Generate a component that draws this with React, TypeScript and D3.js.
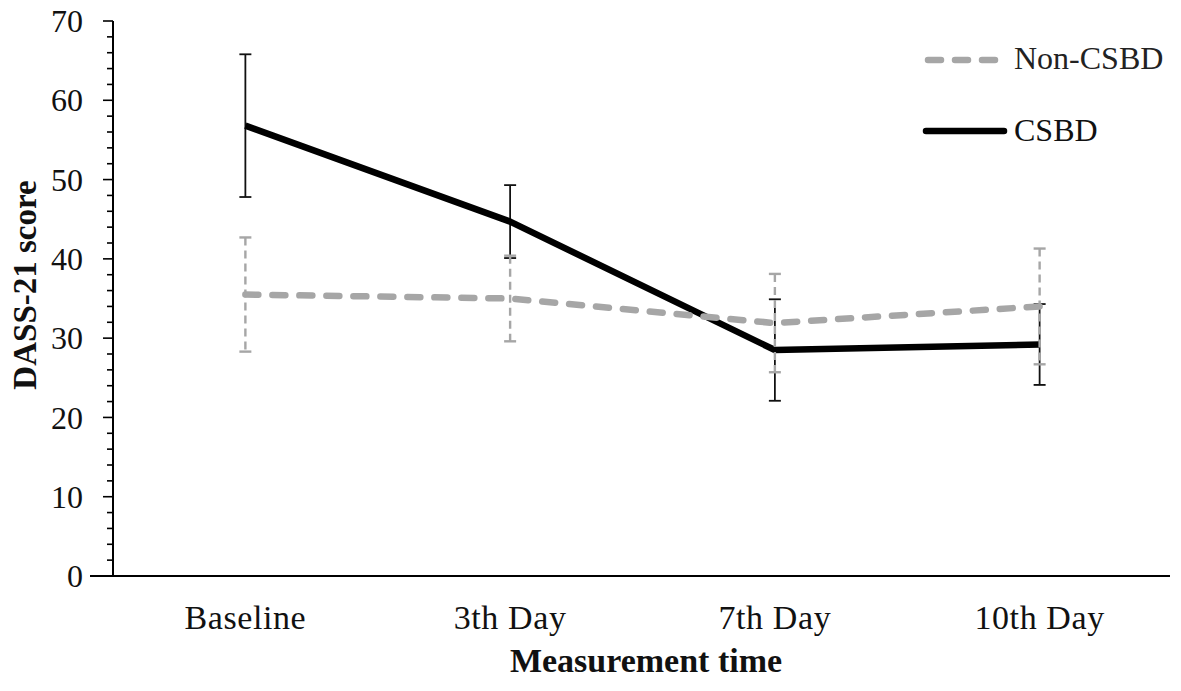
import * as d3 from 'd3';
import React from "react";

const WIDTH = 1181;
const HEIGHT = 691;

const categories = ["Baseline", "3th Day", "7th Day", "10th Day"];
const csbdMean = [56.8, 44.7, 28.5, 29.2];
const csbdErr = [9.0, 4.6, 6.4, 5.1];
const nonCsbdMean = [35.5, 35.0, 31.9, 34.0];
const nonCsbdErr = [7.2, 5.4, 6.2, 7.3];
const yTicks = [0, 10, 20, 30, 40, 50, 60, 70];
const yMinorTicks = d3.range(0, 71, 2);

const FONT = "'Liberation Serif', 'Times New Roman', serif";
const GRAY = "#a6a6a6";

const x = d3.scaleBand().domain(categories).range([113, 1172]);
const y = d3.scaleLinear().domain([0, 70]).range([576, 21]);
const cx = (c: string) => (x(c) as number) + x.bandwidth() / 2;

const line = d3.line<number>()
    .x((_, i) => cx(categories[i]))
    .y(d => y(d));

const ErrorBars: React.FC<{ mean: number[], err: number[], color: string, dash?: string }> = ({mean, err, color, dash}) => (
    <g stroke={color} strokeWidth={dash ? 2.4 : 1.8} fill="none">
        {mean.map((m, i) => {
            const px = cx(categories[i]);
            const top = y(m + err[i]);
            const bot = y(m - err[i]);
            return (
                <g key={i}>
                    <line x1={px} x2={px} y1={top} y2={bot} strokeDasharray={dash}/>
                    <line x1={px - 6} x2={px + 6} y1={top} y2={top}/>
                    <line x1={px - 6} x2={px + 6} y1={bot} y2={bot}/>
                </g>
            );
        })}
    </g>
);

export default function App() {
    return (
        <div style={{position: 'absolute', left: 0, top: 0}}>
            <svg width={WIDTH} height={HEIGHT} style={{display: 'block', background: '#fff'}} fontFamily={FONT}>
                {/* y axis */}
                <line x1={113} x2={113} y1={y(70)} y2={y(0)} stroke="#000" strokeWidth={2}/>
                {yMinorTicks.map(t => (
                    <line key={"m" + t} x1={t % 10 === 0 ? 103 : 107} x2={113} y1={y(t)} y2={y(t)}
                          stroke="#000" strokeWidth={1.6}/>
                ))}
                {yTicks.map(t => (
                    <text key={t} x={83} y={y(t)} dy="0.35em" textAnchor="end" fontSize={32} fill="#111">{t}</text>
                ))}
                {/* x axis */}
                <line x1={90} x2={1170} y1={y(0)} y2={y(0)} stroke="#000" strokeWidth={2}/>
                {categories.map(c => (
                    <text key={c} x={cx(c)} y={629} textAnchor="middle" fontSize={34} letterSpacing={0.6}
                          fill="#111">{c}</text>
                ))}
                <text x={646} y={672} textAnchor="middle" fontSize={34} fontWeight="bold" fill="#111">Measurement time</text>
                <text transform="translate(36,285) rotate(-90)" textAnchor="middle" fontSize={33} fontWeight="bold"
                      fill="#111">DASS-21 score</text>

                {/* series */}
                <ErrorBars mean={csbdMean} err={csbdErr} color="#111"/>
                <path d={line(csbdMean) ?? ""} fill="none" stroke="#000" strokeWidth={6.5} strokeLinejoin="round"/>
                <ErrorBars mean={nonCsbdMean} err={nonCsbdErr} color={GRAY} dash="8 5"/>
                <path d={line(nonCsbdMean) ?? ""} fill="none" stroke={GRAY} strokeWidth={6.5}
                      strokeDasharray="13 14" strokeLinecap="round"/>

                {/* legend */}
                <line x1={928} x2={996} y1={60} y2={60} stroke={GRAY} strokeWidth={6.5}
                      strokeDasharray="13 14" strokeLinecap="round"/>
                <text x={1014} y={69} fontSize={32} fill="#222">Non-CSBD</text>
                <line x1={926} x2={1004} y1={131} y2={131} stroke="#000" strokeWidth={6.5} strokeLinecap="round"/>
                <text x={1014} y={141} fontSize={32} fill="#111">CSBD</text>
            </svg>
        </div>
    );
}
